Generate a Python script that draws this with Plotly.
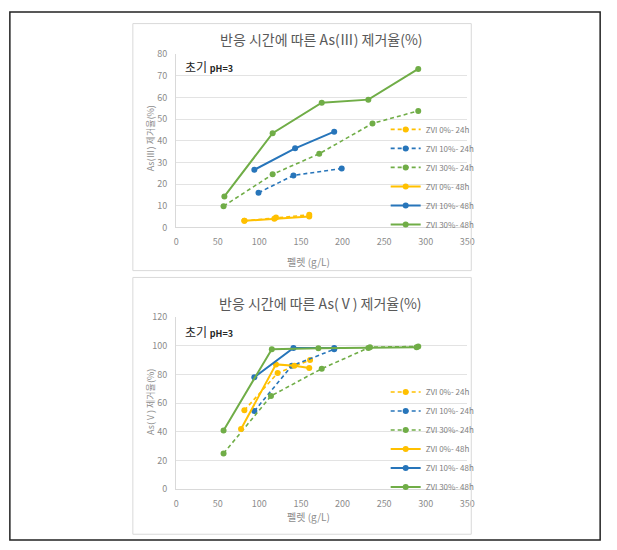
import plotly.graph_objects as go

W, H = 617, 550
KFONT = "Noto Sans CJK KR, Noto Sans, sans-serif"

# series names and colours
names = ["ZVI 0%- 24h", "ZVI 10%- 24h", "ZVI 30%- 24h",
         "ZVI 0%- 48h", "ZVI 10%- 48h", "ZVI 30%- 48h"]
colors = ["#FFC000", "#2775BA", "#70AD47", "#FFC000", "#2775BA", "#70AD47"]
dashes = ["4px,3px", "4px,3px", "4px,3px", "solid", "solid", "solid"]

# As(III) removal (%) vs pellet (g/L)
as3_x = [
    [82, 120, 160],
    [99, 141, 199],
    [57, 116, 172, 236, 291],
    [82, 118, 160],
    [94, 143, 190],
    [58, 116, 175, 231, 291],
]
as3_y = [
    [3.0, 4.5, 5.8],
    [16.0, 24.0, 27.2],
    [9.8, 24.5, 34.0, 48.0, 53.8],
    [3.0, 4.0, 5.0],
    [26.6, 36.5, 44.2],
    [14.3, 43.5, 57.6, 59.0, 73.2],
]

# As(V) removal (%) vs pellet (g/L)
as5_x = [
    [82, 122, 161],
    [94, 139, 190],
    [57, 114, 175, 233, 291],
    [78, 120, 142, 160],
    [94, 141, 190],
    [57, 115, 171, 231, 289],
]
as5_y = [
    [55.0, 81.0, 90.0],
    [54.5, 86.0, 97.5],
    [25.0, 65.0, 84.0, 99.0, 99.5],
    [42.0, 87.0, 86.0, 84.5],
    [78.0, 98.5, 98.5],
    [41.0, 97.6, 98.3, 98.5, 99.0],
]

x_ticks = [0, 50, 100, 150, 200, 250, 300, 350]


def px(x):
    return x / W


def py(y):
    return 1 - y / H


fig = go.Figure()

for i in range(6):
    fig.add_trace(go.Scatter(
        x=as3_x[i], y=as3_y[i], name=names[i], mode="lines+markers",
        line=dict(color=colors[i], width=1.6 if i < 3 else 2, dash=dashes[i]),
        marker=dict(color=colors[i], size=6), xaxis="x", yaxis="y", legend="legend"))

for i in range(6):
    fig.add_trace(go.Scatter(
        x=as5_x[i], y=as5_y[i], name=names[i], mode="lines+markers",
        line=dict(color=colors[i], width=1.6 if i < 3 else 2, dash=dashes[i]),
        marker=dict(color=colors[i], size=6), xaxis="x2", yaxis="y2", legend="legend2"))

tickfont = dict(family=KFONT, size=9, color="#8c8c8c")
xa = dict(range=[0, 350], tickvals=x_ticks, showgrid=False, zeroline=False,
          showline=True, linecolor="#d9d9d9", linewidth=1, tickfont=tickfont,
          ticks="", ticklabelstandoff=6, fixedrange=True)
ya = dict(showgrid=True, gridcolor="#e3e3e3", gridwidth=1, zeroline=False,
          showline=True, linecolor="#d9d9d9", linewidth=1, tickfont=tickfont,
          ticks="", ticklabelstandoff=6, fixedrange=True)

leg = dict(font=dict(family=KFONT, size=8, color="#7f7f7f"), bgcolor="rgba(0,0,0,0)",
           xanchor="left", yanchor="middle", itemwidth=30, tracegroupgap=0)

fig.update_layout(
    width=W, height=H, margin=dict(l=0, r=0, t=0, b=0),
    paper_bgcolor="white", plot_bgcolor="white",
    xaxis=dict(xa, domain=[px(177), px(473)], anchor="y"),
    yaxis=dict(ya, domain=[py(225.7), py(48.3)], range=[0, 80], dtick=10, anchor="x"),
    xaxis2=dict(xa, domain=[px(177), px(473)], anchor="y2"),
    yaxis2=dict(ya, domain=[py(494), py(317.5)], range=[0, 120], dtick=20, anchor="x2"),
    legend=dict(leg, x=px(390), y=py(174)),
    legend2=dict(leg, x=px(390), y=py(443)),
    showlegend=True,
)

shapes = [
    dict(type="rect", xref="paper", yref="paper", x0=px(8), x1=px(608), y0=py(546), y1=py(5),
         line=dict(color="#222222", width=1.5)),
    dict(type="rect", xref="paper", yref="paper", x0=px(133), x1=px(477), y0=py(270), y1=py(17),
         line=dict(color="#d9d9d9", width=1)),
    dict(type="rect", xref="paper", yref="paper", x0=px(133), x1=px(477), y0=py(540), y1=py(277),
         line=dict(color="#d9d9d9", width=1)),
]
fig.update_layout(shapes=shapes)

title_font = dict(family=KFONT, size=14, color="#595959")
lab_font = dict(family=KFONT, size=9, color="#8c8c8c")
ann = [
    dict(text="반응 시간에 따른 As(Ⅲ) 제거율(%)", x=px(325), y=py(33), font=title_font),
    dict(text="반응 시간에 따른 As(Ⅴ) 제거율(%)", x=px(324), y=py(303), font=title_font),
    dict(text="As(Ⅲ) 제거율(%)", x=px(151), y=py(135), font=lab_font, textangle=-90),
    dict(text="As(Ⅴ) 제거율(%)", x=px(151), y=py(405), font=lab_font, textangle=-90),
    dict(text="펠렛 (g/L)", x=px(312), y=py(261), font=dict(lab_font, size=10)),
    dict(text="펠렛 (g/L)", x=px(312), y=py(522), font=dict(lab_font, size=10)),
    dict(text="초기 <span style='font-size:9px'><b>pH=3</b></span>", x=px(184), y=py(61),
         xanchor="left", font=dict(family=KFONT, size=12, color="#262626")),
    dict(text="초기 <span style='font-size:9px'><b>pH=3</b></span>", x=px(184), y=py(332),
         xanchor="left", font=dict(family=KFONT, size=12, color="#262626")),
]
for a in ann:
    a.setdefault("xanchor", "center")
    a.update(xref="paper", yref="paper", yanchor="middle", showarrow=False)
fig.update_layout(annotations=ann)

fig.write_html("out.html", config={"displayModeBar": False},
               post_script="document.body.style.margin='0';")
